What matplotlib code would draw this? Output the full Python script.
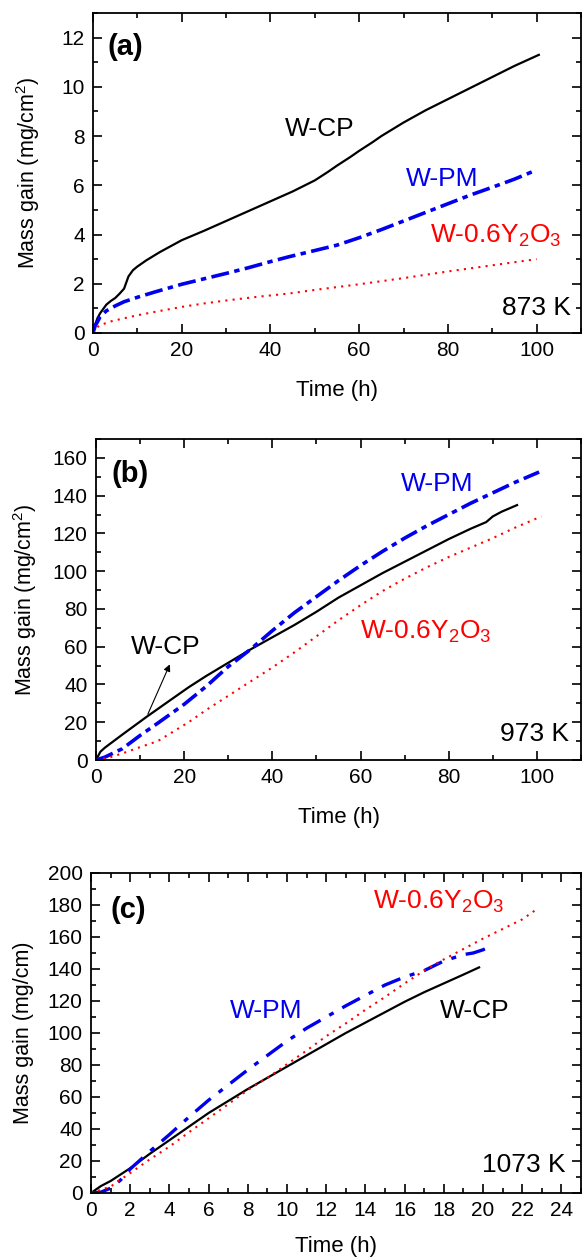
import numpy as np
import matplotlib
matplotlib.use('Agg')
import matplotlib.pyplot as plt
from matplotlib.ticker import MultipleLocator

# ---- panel (a) 873 K ----
t_a_cp = [0, 0.5, 1, 1.6, 3, 4, 5, 6, 7, 8, 9, 10, 12, 15, 20, 25, 30, 35, 40, 45,
          50, 53, 55, 58, 60, 63, 65, 70, 75, 80, 85, 90, 95, 100.5]
m_a_cp = [0, 0.35, 0.6, 0.8, 1.15, 1.3, 1.42, 1.6, 1.8, 2.3, 2.55, 2.7, 2.95, 3.28, 3.77, 4.15, 4.55, 4.95, 5.35, 5.75,
          6.2, 6.55, 6.8, 7.15, 7.4, 7.75, 8.0, 8.55, 9.05, 9.5, 9.95, 10.4, 10.85, 11.3]
t_a_pm = [0, 0.5, 1, 1.6, 3, 5, 7, 10, 14, 20, 25, 30, 35, 40, 44, 50, 55, 60, 65, 70, 75, 80, 85, 90, 95, 99]
m_a_pm = [0, 0.3, 0.45, 0.66, 0.9, 1.1, 1.27, 1.45, 1.67, 1.98, 2.2, 2.42, 2.65, 2.9, 3.09, 3.35, 3.57,
          3.87, 4.2, 4.55, 4.9, 5.25, 5.6, 5.92, 6.25, 6.55]
t_a_y = [0, 0.5, 1, 1.6, 4, 6.8, 10, 14, 20, 25, 30, 37, 44, 50, 60, 70, 80, 90, 100]
m_a_y = [0, 0.15, 0.24, 0.32, 0.47, 0.59, 0.72, 0.86, 1.06, 1.2, 1.32, 1.47, 1.6, 1.75, 1.98, 2.23, 2.5, 2.75, 3.0]

# ---- panel (b) 973 K ----
t_b_cp = [0, 1, 2, 6, 11.5, 16, 21, 25, 30, 35, 40, 45, 50, 55, 60, 65, 70, 75, 80, 85, 87.5, 88.5, 90, 92, 95.5]
m_b_cp = [0, 4.4, 6.5, 13.5, 22.9, 30.3, 38.5, 44.5, 51.5, 58.5, 65, 71.5, 78.5, 86, 92.5, 99, 105, 111, 117,
          122.5, 125, 126, 129, 131.5, 135]
t_b_pm = [0, 2, 6, 10, 14, 20, 25, 30, 35, 40, 45, 50, 55, 60, 65, 70, 75, 80, 85, 90, 95, 100.5]
m_b_pm = [0, 1.5, 6, 13, 19.5, 29.5, 39, 49.5, 58.5, 68.5, 78, 86.5, 95, 103, 110.5, 117.5, 124, 130, 136, 141.5,
          147, 152.5]
t_b_y = [0, 3, 6, 9, 14, 21, 25, 30, 35, 40, 45, 50, 55, 60, 65, 70, 75, 80, 85, 90, 95, 101]
m_b_y = [0, 1.3, 3.5, 6, 10, 20, 26.5, 34, 41.5, 49, 57, 65.5, 74, 82, 89.5, 96, 102, 107.5, 112.5, 117.5,
         123, 129]

# ---- panel (c) 1073 K ----
t_c_cp = [0, 0.5, 1, 2, 3, 4, 5, 6, 7, 8, 9, 10, 11, 12, 13, 14, 15, 16, 17, 18, 19, 19.8]
m_c_cp = [0, 4.3, 7.5, 15.5, 24.5, 33, 41.5, 50, 57.5, 65, 72, 79, 86, 93, 100, 106.5, 113, 119.5, 125.5, 131,
          136.5, 141]
t_c_pm = [0, 0.5, 1, 1.5, 2, 3, 4, 5, 6, 7, 8, 9, 10, 11, 12, 13, 14, 15, 16, 17, 18, 19, 19.5, 20, 20.5]
m_c_pm = [0, 0.5, 3, 8, 15, 26, 36.5, 47.5, 58, 67.5, 77, 86, 95, 103, 110, 117, 123.5, 130, 135, 139, 145, 149,
          150, 152, 155]
t_c_y = [0, 0.5, 1, 2, 3, 4, 5, 6, 7, 8, 9, 10, 11, 12, 13, 14, 15, 16, 17, 18, 19, 20, 21, 22, 22.7]
m_c_y = [0, 2, 4, 12.5, 21, 29, 38, 46.7, 55.5, 64.4, 72, 80.5, 89, 98, 106, 114.5, 122.5, 131, 139, 146, 152.5,
         159, 165, 171, 177]

plt.rcParams['font.family'] = ['Liberation Sans', 'DejaVu Sans']
plt.rcParams['mathtext.fontset'] = 'custom'
plt.rcParams['mathtext.rm'] = 'Liberation Sans'
plt.rcParams['mathtext.it'] = 'Liberation Sans:italic'
plt.rcParams['mathtext.bf'] = 'Liberation Sans:bold'

W, H = 582, 1260
fig = plt.figure(figsize=(W / 100, H / 100), dpi=100)


def make_ax(left, top, right, bottom):
    # pixel box -> figure fraction
    return fig.add_axes([left / W, 1 - bottom / H, (right - left) / W, (bottom - top) / H])


def style(ax, xmaj, xmin, ymaj, ymin, xpad=14):
    ax.xaxis.set_major_locator(MultipleLocator(xmaj))
    ax.xaxis.set_minor_locator(MultipleLocator(xmin))
    ax.yaxis.set_major_locator(MultipleLocator(ymaj))
    ax.yaxis.set_minor_locator(MultipleLocator(ymin))
    ax.tick_params(which='both', direction='in', top=True, right=True, labelsize=15, width=1.2)
    ax.tick_params(which='major', length=6.5, pad=6)
    ax.tick_params(which='minor', length=3.5)
    for s in ax.spines.values():
        s.set_linewidth(1.3)
    ax.set_xlabel('Time (h)', fontsize=16, labelpad=xpad)


RED = '#ff0000'
BLUE = '#0000ee'
lbl = dict(fontsize=19)
let = dict(fontsize=21, fontweight='bold', va='center')

# (a)
ax = make_ax(93, 13, 581, 333)
ax.plot(t_a_cp, m_a_cp, color='k', lw=1.6)
ax.plot(t_a_pm, m_a_pm, color=BLUE, lw=2.6, ls=(0, (5, 1.5, 1.5, 1.5)))
ax.plot(t_a_y, m_a_y, color=RED, lw=1.5, ls=(0, (1, 2.5)))
ax.set_xlim(0, 110)
ax.set_ylim(0, 13)
style(ax, 20, 10, 2, 1)
ax.set_ylabel('Mass gain (mg/cm$^2$)', fontsize=15.5, labelpad=14)
ax.text(3.3, 11.6, '(a)', **let)
ax.text(51, 8.3, 'W-CP', color='k', ha='center', va='center', **lbl)
ax.text(78.6, 6.26, 'W-PM', color=BLUE, ha='center', va='center', **lbl)
ax.text(76, 3.95, 'W-0.6Y$_2$O$_3$', color=RED, ha='left', va='center', **lbl)
ax.text(107.7, 1.0, '873 K', ha='right', va='center', **lbl)

# (b)
ax = make_ax(96, 439, 581, 760)
ax.plot(t_b_cp, m_b_cp, color='k', lw=1.6)
ax.plot(t_b_pm, m_b_pm, color=BLUE, lw=2.6, ls=(0, (5, 1.5, 1.5, 1.5)))
ax.plot(t_b_y, m_b_y, color=RED, lw=1.5, ls=(0, (1, 2.5)))
ax.set_xlim(0, 110)
ax.set_ylim(0, 170)
style(ax, 20, 10, 20, 10)
ax.set_ylabel('Mass gain (mg/cm$^2$)', fontsize=15.5, labelpad=10)
ax.text(3.5, 151.7, '(b)', **let)
ax.text(77.4, 146, 'W-PM', color=BLUE, ha='center', va='center', **lbl)
ax.text(59.8, 68, 'W-0.6Y$_2$O$_3$', color=RED, ha='left', va='center', **lbl)
ax.text(107.2, 14, '973 K', ha='right', va='center', **lbl)
ax.text(15.8, 60, 'W-CP', ha='center', va='center', **lbl)
ax.annotate('', xy=(17, 52), xytext=(11.5, 22.9),
            arrowprops=dict(arrowstyle='-|>', color='k', lw=0.8, mutation_scale=10))

# (c)
ax = make_ax(91, 873, 581, 1193)
ax.plot(t_c_cp, m_c_cp, color='k', lw=1.6)
ax.plot(t_c_pm, m_c_pm, color=BLUE, lw=2.4, ls=(0, (6, 3, 1.5, 3)))
ax.plot(t_c_y, m_c_y, color=RED, lw=1.5, ls=(0, (1, 2.5)))
ax.set_xlim(0, 25)
ax.set_ylim(0, 200)
style(ax, 2, 1, 20, 10, xpad=11)
ax.set_ylabel('Mass gain (mg/cm)', fontsize=15.5, labelpad=10)
ax.text(1.0, 177, '(c)', **let)
ax.text(14.4, 182, 'W-0.6Y$_2$O$_3$', color=RED, ha='left', va='center', **lbl)
ax.text(8.95, 113.5, 'W-PM', color=BLUE, ha='center', va='center', **lbl)
ax.text(19.6, 113.5, 'W-CP', ha='center', va='center', **lbl)
ax.text(24.2, 17.7, '1073 K', ha='right', va='center', **lbl)

fig.savefig('out.png', dpi=100)
